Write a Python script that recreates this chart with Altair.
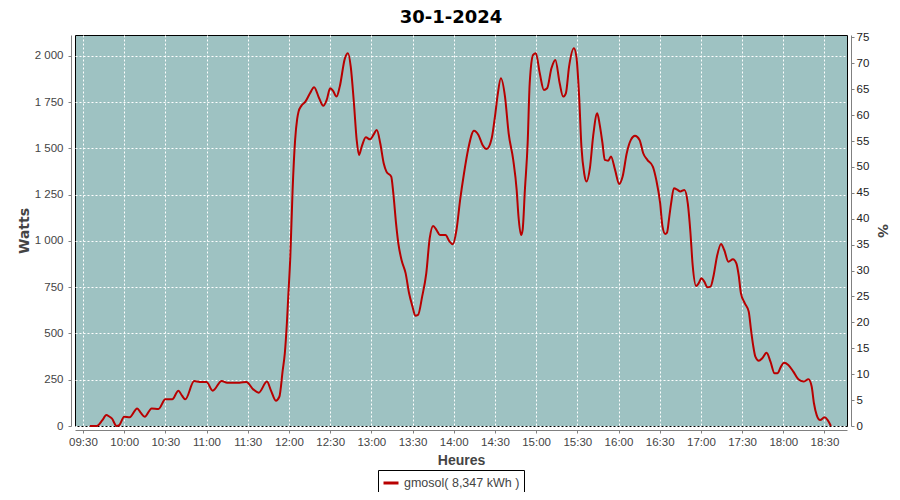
import altair as alt
import pandas as pd

times = [
    "09:35:00", "09:40:00", "09:44:00", "09:47:00", "09:49:00", "09:51:00", "09:54:30", "09:56:30",
    "10:00:00", "10:04:00", "10:09:30", "10:12:00", "10:15:00", "10:20:00", "10:25:00", "10:30:00",
    "10:35:00", "10:39:30", "10:42:00", "10:44:30", "10:51:00", "10:55:00", "11:00:00", "11:04:30",
    "11:11:00", "11:15:00", "11:24:00", "11:29:00", "11:34:00", "11:38:00", "11:44:00", "11:47:00",
    "11:50:30", "11:53:00", "11:55:30", "11:57:00", "11:58:30", "11:59:30", "12:01:00", "12:02:40",
    "12:04:30", "12:06:00", "12:07:00", "12:09:00", "12:12:00", "12:15:20", "12:18:20", "12:22:00",
    "12:25:00", "12:27:30", "12:30:00", "12:32:00", "12:34:40", "12:37:00", "12:40:45", "12:43:00",
    "12:45:00", "12:47:20", "12:49:20", "12:51:00", "12:53:00", "12:56:00", "12:59:00", "13:01:30",
    "13:04:00", "13:06:30", "13:09:00", "13:11:00", "13:14:30", "13:16:00", "13:18:00", "13:19:40",
    "13:22:00", "13:25:00", "13:27:30", "13:30:00", "13:32:00", "13:34:00", "13:37:00", "13:40:00",
    "13:42:30", "13:45:00", "13:47:30", "13:50:00", "13:54:00", "13:57:00", "13:59:20", "14:02:00",
    "14:04:40", "14:07:30", "14:10:40", "14:14:45", "14:18:00", "14:21:00", "14:24:00", "14:27:40",
    "14:30:20", "14:32:00", "14:34:20", "14:37:20", "14:40:00", "14:43:20", "14:45:50", "14:47:10",
    "14:49:00", "14:50:10", "14:51:50", "14:53:50", "14:55:20", "14:57:50", "14:59:50", "15:02:40",
    "15:05:40", "15:08:00", "15:11:10", "15:14:00", "15:17:10", "15:19:40", "15:21:40", "15:24:00",
    "15:27:30", "15:29:20", "15:31:20", "15:33:00", "15:35:00", "15:36:40", "15:39:10", "15:41:30",
    "15:44:30", "15:46:20", "15:48:20", "15:50:00", "15:52:30", "15:54:30", "15:57:30", "16:00:30",
    "16:03:00", "16:06:00", "16:09:00", "16:12:00", "16:15:20", "16:18:00", "16:21:00", "16:25:00",
    "16:27:30", "16:30:20", "16:32:00", "16:34:00", "16:35:20", "16:37:00", "16:38:20", "16:40:20",
    "16:43:00", "16:45:00", "16:48:00", "16:50:30", "16:52:20", "16:54:00", "16:56:30", "16:58:20",
    "17:00:20", "17:02:30", "17:04:40", "17:07:00", "17:09:20", "17:11:40", "17:14:40", "17:17:00",
    "17:20:00", "17:23:20", "17:25:50", "17:27:30", "17:29:10", "17:32:00", "17:34:50", "17:36:30",
    "17:38:00", "17:39:40", "17:42:10", "17:44:40", "17:47:50", "17:50:40", "17:53:40", "17:55:40",
    "17:58:20", "18:00:30", "18:03:40", "18:07:20", "18:11:00", "18:14:40", "18:18:20", "18:20:40",
    "18:22:20", "18:24:20", "18:26:50", "18:30:00", "18:32:20", "18:34:40",
]
watts = [
    0, 0, 30, 59, 52, 41, 0, 5,
    50, 47, 95, 72, 50, 95, 92, 144,
    144, 191, 165, 144, 243, 238, 238, 191,
    243, 234, 234, 238, 198, 180, 240, 190,
    137, 158, 303, 393, 555, 699, 915, 1276,
    1546, 1660, 1699, 1730, 1753, 1798, 1831, 1771,
    1730, 1762, 1825, 1812, 1780, 1834, 1987, 2014,
    1942, 1744, 1546, 1465, 1510, 1560, 1549, 1573,
    1600, 1528, 1420, 1375, 1348, 1258, 1095, 987,
    897, 825, 717, 645, 596, 600, 699, 825,
    1014, 1081, 1059, 1032, 1032, 996, 982, 1059,
    1222, 1366, 1501, 1596, 1573, 1519, 1497, 1555,
    1690, 1789, 1879, 1780, 1582, 1438, 1276, 1132,
    1032, 1059, 1276, 1528, 1852, 2005, 2014, 1906,
    1816, 1825, 1933, 1978, 1852, 1780, 1798, 1942,
    2041, 1996, 1780, 1510, 1366, 1321, 1393, 1564,
    1690, 1627, 1528, 1438, 1434, 1456, 1384, 1308,
    1348, 1474, 1546, 1568, 1546, 1474, 1438, 1402,
    1330, 1204, 1080, 1038, 1045, 1132, 1204, 1285,
    1276, 1267, 1276, 1200, 1050, 870, 757, 771,
    798, 780, 750, 753, 816, 915, 984, 951,
    888, 901, 879, 816, 717, 663, 618, 519,
    438, 375, 353, 366, 396, 348, 285, 285,
    321, 342, 330, 294, 252, 240, 252, 213,
    123, 59, 32, 47, 32, 0,
]

title_text = "30-1-2024"
series_name = "gmosol( 8,347 kWh )"
x_ticks = ["09:30", "10:00", "10:30", "11:00", "11:30", "12:00", "12:30", "13:00", "13:30",
           "14:00", "14:30", "15:00", "15:30", "16:00", "16:30", "17:00", "17:30", "18:00", "18:30"]
w_ticks = [0, 250, 500, 750, 1000, 1250, 1500, 1750, 2000]
pct_ticks = list(range(0, 80, 5))
x_range = ["09:24:12", "18:46:24"]
w_max = 2113
watts_full_scale = 2800  # 100 %


def to_min(s):
    p = [int(v) for v in s.split(":")]
    while len(p) < 3:
        p.append(0)
    return p[0] * 60 + p[1] + p[2] / 60.0


df = pd.DataFrame({
    "t": [to_min(s) for s in times],
    "W": watts,
    "serie": series_name,
})
df["pct"] = df["W"] / watts_full_scale * 100

x_dom = [to_min(x_range[0]), to_min(x_range[1])]
x_vals = [to_min(s) for s in x_ticks]
pct_max = w_max / watts_full_scale * 100

FONT = "Liberation Sans"
BFONT = "DejaVu Sans"
LC = "#444444"

x_enc = alt.X(
    "t:Q",
    scale=alt.Scale(domain=x_dom, nice=False, zero=False),
    axis=alt.Axis(
        values=x_vals, labelExpr="utcFormat(datum.value*60000, '%H:%M')",
        title="Heures", grid=True, gridColor="white", gridDash=[2, 2], gridWidth=1,
        domainColor="#808080", tickColor="#808080", tickSize=3, offset=4,
        labelFont=FONT, labelFontSize=11.5, labelColor=LC, labelPadding=3,
        titleFont=FONT, titleFontSize=14, titleFontWeight="bold", titleColor=LC,
        titlePadding=6, labelFlush=False,
    ),
)

line = alt.Chart(df).mark_line(strokeWidth=2, interpolate="monotone").encode(
    x=x_enc,
    y=alt.Y(
        "W:Q",
        scale=alt.Scale(domain=[0, w_max], nice=False),
        axis=alt.Axis(
            values=w_ticks, labelExpr="replace(format(datum.value, ','), ',', ' ')",
            title="Watts", orient="left", grid=True, gridColor="white", gridDash=[2, 2],
            domainColor="#808080", tickColor="#808080", tickSize=3, offset=4,
            labelFont=FONT, labelFontSize=11.5, labelColor=LC, labelPadding=5,
            titleFont=BFONT, titleFontSize=14, titleFontWeight="bold", titleColor=LC,
            titlePadding=3,
        ),
    ),
    color=alt.Color(
        "serie:N",
        scale=alt.Scale(range=["#B80000"]),
        legend=alt.Legend(
            title=None, orient="none", legendX=303, legendY=435,
            symbolType="stroke", symbolSize=225, symbolStrokeWidth=3,
            labelFont=FONT, labelFontSize=12.5, labelColor=LC,
            strokeColor="black", padding=4, fillColor="white",
        ),
    ),
)

pct_layer = alt.Chart(df).mark_line(opacity=0).encode(
    x=alt.X("t:Q", scale=alt.Scale(domain=x_dom, nice=False, zero=False)),
    y=alt.Y(
        "pct:Q",
        scale=alt.Scale(domain=[0, pct_max], nice=False),
        axis=alt.Axis(
            values=pct_ticks, title="%", orient="right", grid=False,
            domainColor="#808080", tickColor="#808080", tickSize=3, offset=4,
            labelFont=FONT, labelFontSize=11.5, labelColor="#222222", labelPadding=2,
            titleFont=BFONT, titleFontSize=14, titleFontWeight="bold", titleColor=LC,
            titlePadding=6,
        ),
    ),
)

chart = alt.layer(line, pct_layer).resolve_scale(y="independent").properties(
    width=772,
    height=391,
    background="white",
    title=alt.TitleParams(
        text=title_text, font=BFONT, fontSize=18, fontWeight="bold", color="black",
        anchor="middle", dx=-10, offset=4, frame="group",
    ),
    autosize=alt.AutoSizeParams(type="none"),
    padding={"left": 67, "top": 27, "right": 45, "bottom": 66},
).configure_view(
    fill="#9EC2C2", stroke="black", strokeWidth=1,
)

chart.save("out.html", embed_options={"renderer": "svg", "actions": False})
